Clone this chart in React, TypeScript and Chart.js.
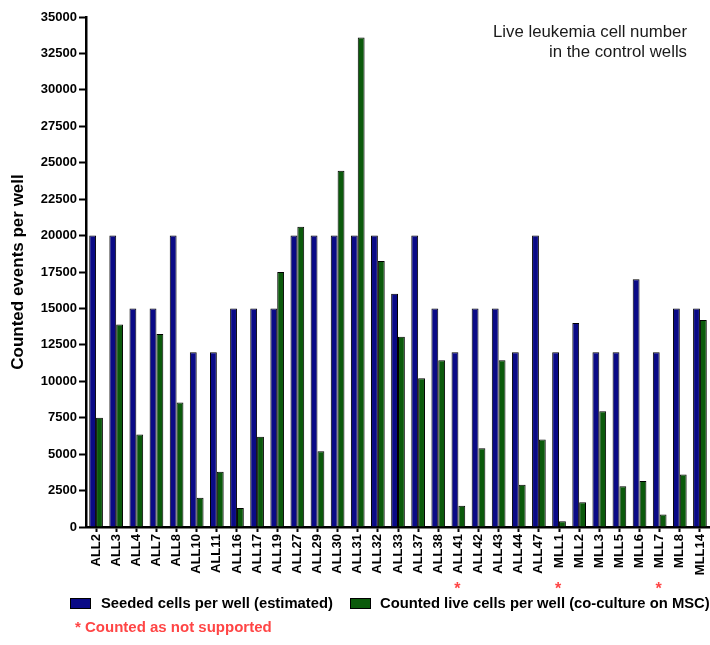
import React, { useEffect, useRef } from 'react';
import { Chart, registerables } from 'chart.js';

Chart.register(...registerables);

const categories = [
  'ALL2', 'ALL3', 'ALL4', 'ALL7', 'ALL8', 'ALL10', 'ALL11', 'ALL16', 'ALL17', 'ALL19',
  'ALL27', 'ALL29', 'ALL30', 'ALL31', 'ALL32', 'ALL33', 'ALL37', 'ALL38', 'ALL41', 'ALL42',
  'ALL43', 'ALL44', 'ALL47', 'MLL1', 'MLL2', 'MLL3', 'MLL5', 'MLL6', 'MLL7', 'MLL8', 'MLL14',
];

const seededCells = [
  20000, 20000, 15000, 15000, 20000, 12000, 12000, 15000, 15000, 15000,
  20000, 20000, 20000, 20000, 20000, 16000, 20000, 15000, 12000, 15000,
  15000, 12000, 20000, 12000, 14000, 12000, 12000, 17000, 12000, 15000, 15000,
];

const countedLiveCells = [
  7500, 13900, 6350, 13250, 8550, 2000, 3800, 1300, 6200, 17500,
  20600, 5200, 24450, 33600, 18250, 13050, 10200, 11450, 1450, 5400,
  11450, 2900, 6000, 400, 1700, 7950, 2800, 3150, 850, 3600, 14200,
];

const notSupported = ['ALL41', 'MLL1', 'MLL7'];

const seriesLabels = ['Seeded cells per well (estimated)', 'Counted live cells per well (co-culture on MSC)'];
const seriesColors = ['#0a0a86', '#0b5a0b'];
const yAxisTitle = 'Counted events per well';
const annotationLines = ['Live leukemia cell number', 'in the control wells'];
const footnote = '* Counted as not supported';
const yMin = 0;
const yMax = 35000;
const yStep = 2500;

const FONT = '"Liberation Sans", Arial, Helvetica, sans-serif';
const RED = '#ff4545';

const extrasPlugin = {
  id: 'extras',
  afterDraw(chart: any) {
    const ctx = chart.ctx;
    const xScale = chart.scales.x;
    ctx.save();

    // annotation top-right
    ctx.fillStyle = '#1a1a1a';
    ctx.font = `16.8px ${FONT}`;
    ctx.textAlign = 'right';
    ctx.textBaseline = 'middle';
    ctx.fillText(annotationLines[0], 687, 32.5);
    ctx.fillText(annotationLines[1], 687, 52.5);

    // asterisks under not-supported categories
    ctx.fillStyle = RED;
    ctx.font = `bold 16px ${FONT}`;
    ctx.textAlign = 'center';
    ctx.textBaseline = 'middle';
    notSupported.forEach((c) => {
      const idx = categories.indexOf(c);
      if (idx >= 0) {
        const x = xScale.getPixelForValue(idx);
        ctx.fillText('*', x - 1, 590);
      }
    });

    // legend
    const boxes = [
      { x: 70, tx: 101 },
      { x: 350, tx: 380 },
    ];
    ctx.font = `bold 14.8px ${FONT}`;
    ctx.textAlign = 'left';
    boxes.forEach((b, i) => {
      ctx.fillStyle = seriesColors[i];
      ctx.fillRect(b.x, 598, 20, 10);
      ctx.strokeStyle = '#000';
      ctx.lineWidth = 1;
      ctx.strokeRect(b.x + 0.5, 598.5, 20, 10);
      ctx.fillStyle = '#000';
      ctx.fillText(seriesLabels[i], b.tx, 603.5);
    });

    // footnote
    ctx.fillStyle = RED;
    ctx.font = `bold 15px ${FONT}`;
    ctx.fillText(footnote, 75, 628);

    ctx.restore();
  },
};

export default function App() {
  const canvasRef = useRef<HTMLCanvasElement | null>(null);

  useEffect(() => {
    if (!canvasRef.current) return;
    const chart = new Chart(canvasRef.current, {
      type: 'bar',
      data: {
        labels: categories,
        datasets: [
          {
            label: seriesLabels[0],
            data: seededCells,
            backgroundColor: seriesColors[0],
            borderColor: '#000',
            borderWidth: 1,
            categoryPercentage: 0.68,
            barPercentage: 1.0,
          },
          {
            label: seriesLabels[1],
            data: countedLiveCells,
            backgroundColor: seriesColors[1],
            borderColor: '#000',
            borderWidth: 1,
            categoryPercentage: 0.68,
            barPercentage: 1.0,
          },
        ],
      },
      options: {
        animation: false,
        responsive: true,
        maintainAspectRatio: false,
        layout: { padding: { top: 17, right: 0, bottom: 58, left: 0 } },
        plugins: {
          legend: { display: false },
          tooltip: { enabled: false },
          title: { display: false },
        },
        scales: {
          x: {
            offset: true,
            grid: {
              offset: false,
              drawOnChartArea: false,
              drawTicks: true,
              tickLength: 5,
              tickWidth: 2,
              color: '#000',
              tickColor: '#000',
            },
            border: { display: true, color: '#000', width: 2.5 },
            ticks: {
              autoSkip: false,
              maxRotation: 90,
              minRotation: 90,
              padding: 2,
              color: '#000',
              font: { family: FONT, size: 13, weight: 'bold' },
            },
            afterFit: (scale: any) => {
              scale.height = 60;
              scale.paddingRight = 0;
            },
          },
          y: {
            min: yMin,
            max: yMax,
            grid: {
              drawOnChartArea: false,
              drawTicks: true,
              tickLength: 7,
              tickWidth: 2,
              color: '#000',
              tickColor: '#000',
            },
            border: { display: true, color: '#000', width: 2.5 },
            ticks: {
              stepSize: yStep,
              padding: 2,
              color: '#000',
              font: { family: FONT, size: 13, weight: 'bold' },
              callback: (v: any) => String(v),
            },
            title: {
              display: true,
              text: yAxisTitle,
              color: '#000',
              padding: { top: 8, bottom: 0 },
              font: { family: FONT, size: 17, weight: 'bold' },
            },
            afterFit: (scale: any) => {
              scale.width = 86;
            },
          },
        },
      },
      plugins: [extrasPlugin],
    } as any);
    return () => chart.destroy();
  }, []);

  return (
    <div style={{ position: 'absolute', left: 0, top: 0, width: 710, height: 645 }}>
      <canvas ref={canvasRef} />
    </div>
  );
}
